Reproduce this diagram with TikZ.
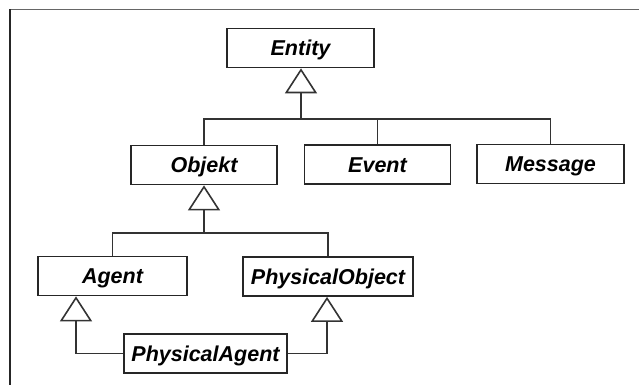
\documentclass[tikz,border=0pt]{standalone}
\usepackage{fontspec}
\setmainfont{Liberation Sans}
\usetikzlibrary{arrows.meta}

\tikzset{
  cls/.style={draw=black!85, line width=1.7pt, fill=white, inner sep=0pt,
    minimum height=39pt, text height=15pt, text depth=0pt,
    font=\fontsize{21.5}{25}\selectfont\bfseries\itshape},
  link/.style={draw=black!80, line width=1.6pt},
  isa/.style={link, -{Triangle[open, length=25pt, width=32pt, line width=1.6pt]}},
  frameline/.style={line width=1.5pt}
}

\begin{document}
\begin{tikzpicture}[x=1pt, y=-1pt]
  \useasboundingbox (0,0) rectangle (639,385);

  % frame
  \draw[frameline, black!60] (10,9.5) -- (639,9.5);
  \draw[frameline, black!85] (10,9.5) -- (10,385);

  % classes
  \node[cls, minimum width=147pt] (entity)  at (300.5,48)   {Entity};
  \node[cls, minimum width=146pt] (objekt)  at (204,165)    {Objekt};
  \node[cls, minimum width=146pt] (event)   at (377.5,164.5){Event};
  \node[cls, minimum width=147pt] (message) at (550.5,164)  {Message};
  \node[cls, minimum width=149pt] (agent)   at (112.5,276)  {Agent};
  \node[cls, minimum width=170pt] (physobj) at (328,276.5)  {PhysicalObject};
  \node[cls, minimum width=163pt] (physagent) at (205.5,353.5) {PhysicalAgent};

  % junction points of the generalisation trees
  \coordinate (j1) at (301,119);
  \coordinate (j2) at (204,233);

  % Entity <- Objekt, Event, Message
  \draw[isa] (j1) -- (j1 |- entity.south);
  \draw[link] (objekt.north) |- (j1) -| (message.north);
  \draw[link] (event.north) -- (event.north |- j1);

  % Objekt <- Agent, PhysicalObject
  \draw[isa] (j2) -- (objekt.south);
  \draw[link] (agent.north) |- (j2) -| (physobj.north);

  % PhysicalAgent -> Agent, PhysicalObject
  \draw[isa] (physagent.west) -| ([xshift=-36.5pt]agent.south);
  \draw[isa] (physagent.east) -| ([xshift=-1pt]physobj.south);
\end{tikzpicture}
\end{document}
